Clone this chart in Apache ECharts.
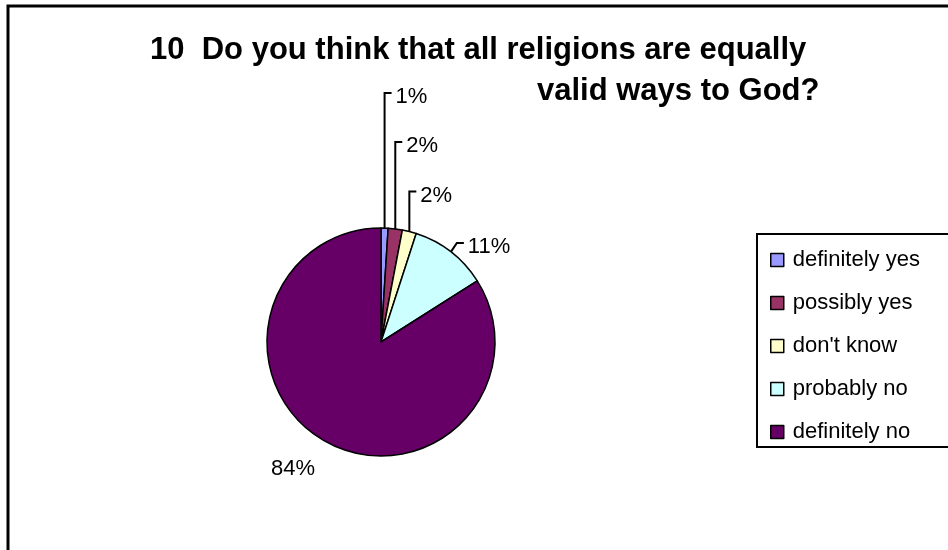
<!DOCTYPE html>
<html>
<head>
<meta charset="utf-8">
<script src="https://cdn.jsdelivr.net/npm/echarts@6/dist/echarts.min.js"></script>
<style>html,body{margin:0;padding:0;background:#fff}#c{width:948px;height:550px}</style>
</head>
<body>
<div id="c"></div>
<script>
var categories = ['definitely yes', 'possibly yes', "don't know", 'probably no', 'definitely no'];
var values = [1, 2, 2, 11, 84];
var colors = ['#9999FF', '#993366', '#FFFFCC', '#CCFFFF', '#660066'];
var titleLine1 = '10  Do you think that all religions are equally';
var titleLine2 = 'valid ways to God?';

// label placement offsets relative to the slice edge point (styling only)
var labelOffsets = [[0, -135], [0, -87], [0, -40], [6, -9], [-33, 27]];

var FONT = 'Liberation Sans, Arial, sans-serif';
var chart = echarts.init(document.getElementById('c'));
chart.setOption({
  backgroundColor: '#fff',
  animation: false,
  title: [
    { text: titleLine1, left: 145, top: 30, textStyle: { fontFamily: FONT, fontSize: 31, fontWeight: 'bold', color: '#000' } },
    { text: titleLine2, left: 532, top: 71, textStyle: { fontFamily: FONT, fontSize: 31, fontWeight: 'bold', color: '#000' } }
  ],
  graphic: [
    { type: 'rect', shape: { x: 8, y: 6, width: 1000, height: 700 }, style: { fill: 'none', stroke: '#000', lineWidth: 3 }, z: -1 },
    { type: 'rect', shape: { x: 757, y: 234, width: 300, height: 213 }, style: { fill: '#fff', stroke: '#000', lineWidth: 2 }, z: 0 }
  ],
  legend: {
    orient: 'vertical',
    left: 765,
    top: 244,
    itemWidth: 13,
    itemHeight: 13,
    itemGap: 21,
    data: categories,
    icon: 'rect',
    itemStyle: { borderColor: '#000', borderWidth: 1.5 },
    textStyle: { fontFamily: FONT, fontSize: 22, color: '#000', padding: [0, 0, 0, 4] },
    z: 5
  },
  series: [{
    type: 'pie',
    center: [381, 342],
    radius: 114,
    startAngle: 90,
    clockwise: true,
    avoidLabelOverlap: false,
    color: colors,
    itemStyle: { borderColor: '#000', borderWidth: 1.5 },
    label: {
      show: true,
      formatter: '{c}%',
      fontFamily: FONT,
      fontSize: 22,
      color: '#000'
    },
    labelLine: { show: true, length: 10, length2: 5, lineStyle: { color: '#000', width: 2 } },
    labelLayout: function (params) {
      var i = params.dataIndex;
      var off = labelOffsets[i];
      var pts = params.labelLinePoints;
      if (!pts) return {};
      var p0 = pts[0];
      if (i === 4) {
        return { x: p0[0] + off[0], y: p0[1] + off[1], align: 'center', verticalAlign: 'middle', labelLinePoints: [p0, p0, p0] };
      }
      var ex = p0[0] + off[0], ey = p0[1] + off[1];
      return {
        x: ex + 11,
        y: ey + 4,
        align: 'left',
        verticalAlign: 'middle',
        labelLinePoints: [p0, [ex, ey], [ex + 7, ey]]
      };
    },
    emphasis: { disabled: true },
    data: categories.map(function (n, i) { return { name: n, value: values[i] }; })
  }]
});
</script>
</body>
</html>
